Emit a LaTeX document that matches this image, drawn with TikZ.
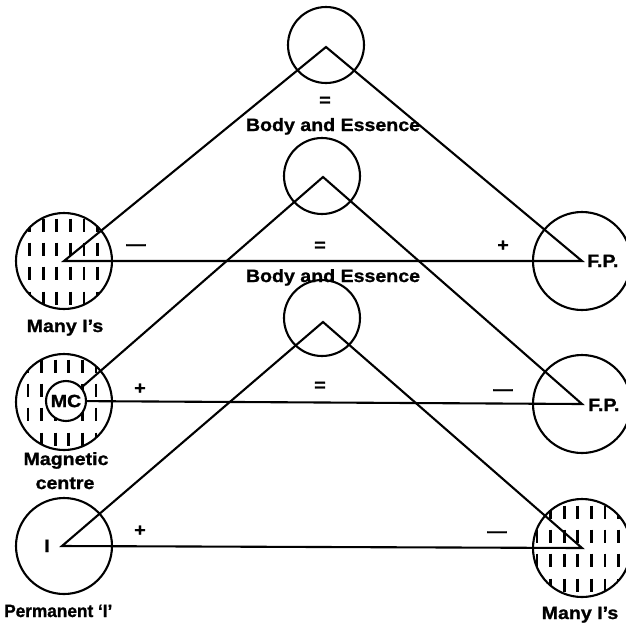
\documentclass[tikz,border=0pt]{standalone}
\usepackage{fontspec}
\usepackage{graphicx}
\newfontfamily\lab[FakeStretch=1.1,FakeBold=1.2]{Liberation Sans}
\newcommand\hatchat[5]{% cx, cy, r, x-offset of first column, number of columns-1
  \begin{scope}
    \clip (#1,#2) circle[radius=#3];
    \foreach \k in {0,...,#5}
      \foreach \dy in {-36,-12,12,37}
        \draw[hatchline] ({#1+#4+13.6*\k},{#2+\dy-6.5}) -- ++(0,13);
  \end{scope}}
\begin{document}
\begin{tikzpicture}[x=1pt,y=-1pt,
  ring/.style={circle, draw, line width=2.1pt, inner sep=0pt},
  lbl/.style={font=\lab\bfseries\fontsize{17.8}{20}\selectfont, inner sep=0pt},
  hatchline/.style={line width=2.8pt},
  tri/.style={line width=2.1pt, line join=miter}]
\useasboundingbox (0,0) rectangle (626,625);

% ---------- row 1 ----------
\hatchat{64}{261}{48}{-34.5}{5}
\node[ring, minimum size=76pt] (t1) at (326,45) {};
\coordinate (a1) at (326,47);
\node[ring, minimum size=96pt] (c1) at (64,261) {};
\coordinate (l1) at (64,261);
\node[ring, minimum size=98pt] (f1) at (582,261) {};
\coordinate (r1) at (582,261);
\draw[tri] (a1) -- (l1) -- (r1) -- cycle;
\node[lbl, anchor=base] (eq1) at (325,106) {=};
\node[lbl, anchor=base] (be1) at (333,131) {Body and Essence};
\node[lbl, anchor=base] (mi1) at (136,250) {—};
\node[lbl, anchor=base] (pl1) at (503,251) {+};
\node[lbl, anchor=base] (many1) at (65,332) {Many I’s};
\node[lbl, anchor=base west] (fp1) at (587,267) {F.P.};

% ---------- row 2 ----------
\hatchat{64}{402}{48}{-36}{5}
\node[ring, minimum size=76pt] (t2) at (322,176) {};
\coordinate (a2) at (323,177);
\node[ring, minimum size=96pt] (c2) at (64,402) {};
\node[ring, lbl, fill=white, minimum size=40pt] (mc) at (66,401) {MC};
\node[ring, minimum size=98pt] (f2) at (582,404) {};
\coordinate (r2) at (582,404);
\draw[tri] (mc) -- (a2) -- (r2) -- (mc);
\node[lbl, anchor=base] (eq2) at (320,251) {=};
\node[lbl, anchor=base] (be2) at (333,282) {Body and Essence};
\node[lbl, anchor=base] (pl2) at (140,394) {+};
\node[lbl, anchor=base] (mi2) at (503,395) {—};
\node[lbl, anchor=base] (mag) at (66,465) {Magnetic};
\node[lbl, anchor=base] (cen) at (65,489) {centre};
\node[lbl, anchor=base west] (fp2) at (588,411) {F.P.};

% ---------- row 3 ----------
\hatchat{582}{548}{49}{-45}{6}
\node[ring, minimum size=76pt] (t3) at (322,318) {};
\coordinate (a3) at (323,322);
\node[ring, minimum size=96pt] (c3) at (64,546) {};
\coordinate (l3) at (62,546);
\node[ring, minimum size=98pt] (c4) at (582,548) {};
\coordinate (r3) at (582,548);
\draw[tri] (a3) -- (l3) -- (r3) -- cycle;
\node[lbl, anchor=base] (eq3) at (320,391) {=};
\node[lbl, anchor=base] (pl3) at (140,536) {+};
\node[lbl, anchor=base] (mi3) at (497,537) {—};
\node[lbl, anchor=base] (ione) at (47,552) {I};
\node[lbl, anchor=base west] (perm) at (4,617) {\scalebox{0.88}[1]{Permanent ‘I’}};
\node[lbl, anchor=base] (many2) at (580,619) {Many I’s};
\end{tikzpicture}
\end{document}
